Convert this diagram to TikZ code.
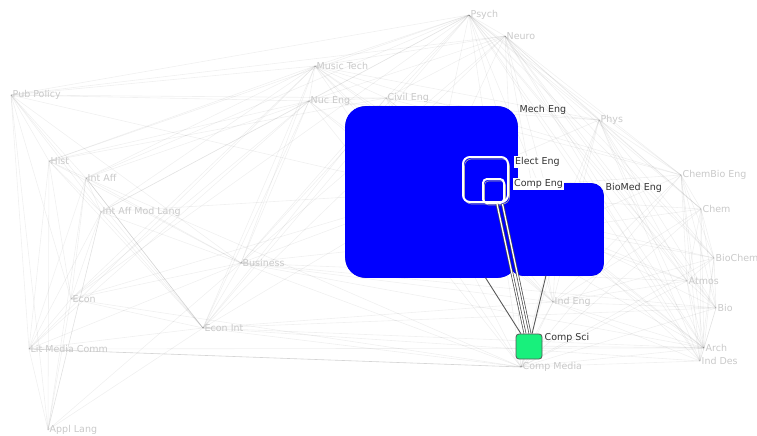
\documentclass[tikz,border=0pt]{standalone}
\usepackage{fontspec}
\setmainfont{DejaVu Sans}
\definecolor{nodeblue}{RGB}{0,0,255}
\definecolor{navyline}{RGB}{20,20,110}
\definecolor{csgreen}{RGB}{24,240,124}
\begin{document}
\begin{tikzpicture}[x=1pt,y=-1pt,
  faint/.style={draw=black, opacity=0.06, line width=0.6pt},
  lab/.style={anchor=west, inner sep=0.5pt, text=gray!42, font=\fontsize{9.5}{11}\selectfont},
  darklab/.style={anchor=west, inner sep=0.5pt, text=black!80, font=\fontsize{9.5}{11}\selectfont},
  boxlab/.style={darklab, fill=white, inner sep=1pt},
  bluebox/.style={draw=navyline, line width=1.6pt, fill=nodeblue, inner sep=0pt},
  whitebox/.style={draw=white, line width=2pt, inner sep=0pt},
  shadowbox/.style={draw=gray!70, line width=0.6pt, inner sep=0pt},
  strong/.style={draw=gray!70!black, line width=0.9pt},
  hilite/.style={draw=gray!60!black, line width=0.7pt, double=white, double distance=1.3pt}
]
\useasboundingbox (0,0) rectangle (757,436);

% node points
\foreach \n/\x/\y in {psych/469/15, neuro/505/36, music/315/66, pub/11/95, nuc/309/101,
  civil/386/98, phys/599/120, hist/49/161, intaff/86/178, intaffml/101/212,
  chembio/681/175, chem/701/209, business/241/263, biochem/714/258, econ/71/299,
  atmos/687/281, indeng/553/302, econint/203/328, bio/716/308, litmed/29/349,
  arch/704/348, inddes/700/361, compmedia/521/367, appl/48/430,
  mechc/431/192, biomedc/557/229, electc/485/179, compsc/529/346}
  \coordinate (\n) at (\x,\y);

% faint background edges
\foreach \a/\b in {
  psych/neuro, psych/music, psych/nuc, psych/civil, psych/phys, psych/chembio, psych/chem,
  psych/biochem, psych/atmos, psych/bio, psych/arch, psych/pub, psych/hist, psych/intaff,
  psych/business, psych/mechc, psych/biomedc, psych/econ, psych/indeng, psych/inddes,
  psych/compmedia, psych/intaffml, psych/econint,
  neuro/music, neuro/nuc, neuro/civil, neuro/phys, neuro/chembio, neuro/chem, neuro/biochem,
  neuro/atmos, neuro/bio, neuro/arch, neuro/inddes, neuro/mechc, neuro/biomedc, neuro/indeng,
  neuro/pub, neuro/business, neuro/compmedia, neuro/econint,
  music/pub, music/nuc, music/civil, music/hist, music/intaff, music/business, music/econint,
  music/econ, music/mechc, music/phys, music/chembio, music/litmed, music/compmedia, music/arch,
  music/intaffml, music/biomedc, music/indeng,
  pub/hist, pub/intaff, pub/econ, pub/litmed, pub/appl, pub/nuc, pub/civil, pub/business,
  pub/econint, pub/intaffml, pub/mechc,
  nuc/civil, nuc/business, nuc/econint, nuc/mechc, nuc/hist, nuc/intaff, nuc/econ, nuc/phys,
  nuc/indeng, nuc/compmedia, nuc/intaffml, nuc/litmed,
  civil/phys, civil/mechc, civil/business, civil/econint, civil/chembio, civil/indeng, civil/arch,
  civil/hist, civil/biomedc,
  hist/intaff, hist/intaffml, hist/econ, hist/litmed, hist/appl, hist/business, hist/econint,
  intaff/intaffml, intaff/econ, intaff/litmed, intaff/appl, intaff/econint, intaff/econint,
  intaff/econint, intaff/business, intaff/compmedia,
  intaffml/econ, intaffml/litmed, intaffml/appl, intaffml/business, intaffml/econint, intaffml/mechc,
  econ/litmed, econ/appl, econ/business, econ/econint, econ/compmedia, econ/mechc,
  litmed/appl, litmed/econint, litmed/business, litmed/compmedia, litmed/compmedia,
  litmed/compmedia, litmed/arch,
  appl/econint, appl/business, appl/intaffml,
  business/econint, business/mechc, business/compmedia, business/indeng, business/arch, business/atmos,
  business/biomedc, business/bio,
  econint/compmedia, econint/mechc, econint/indeng, econint/arch, econint/bio, econint/inddes,
  phys/chembio, phys/chem, phys/biochem, phys/atmos, phys/bio, phys/arch, phys/mechc, phys/biomedc,
  phys/indeng, phys/compmedia, phys/inddes,
  chembio/chem, chembio/biochem, chembio/atmos, chembio/bio, chembio/arch, chembio/inddes,
  chembio/indeng, chembio/biomedc, chembio/mechc, chembio/compmedia,
  chem/biochem, chem/atmos, chem/bio, chem/arch, chem/inddes, chem/indeng, chem/compmedia, chem/biomedc,
  chem/mechc,
  biochem/atmos, biochem/bio, biochem/arch, biochem/inddes, biochem/compmedia, biochem/indeng,
  biochem/biomedc, biochem/mechc,
  atmos/bio, atmos/arch, atmos/inddes, atmos/compmedia, atmos/indeng, atmos/biomedc, atmos/mechc,
  bio/arch, bio/inddes, bio/compmedia, bio/indeng, bio/biomedc,
  arch/inddes, arch/compmedia, arch/indeng, arch/compsc, arch/biomedc, arch/mechc,
  inddes/compmedia, inddes/biomedc, inddes/indeng,
  indeng/compmedia, indeng/compsc, indeng/biomedc, indeng/mechc,
  compmedia/compsc, compmedia/mechc, compmedia/biomedc}
  \draw[faint] (\a) -- (\b);

% big nodes: outline pass then fill pass
\node[bluebox, minimum width=171pt, minimum height=170pt, rounded corners=20pt] (mech) at (431.5,192) {};
\node[bluebox, minimum width=92pt, minimum height=91pt, rounded corners=12pt] (biomed) at (557,229.5) {};
\fill[nodeblue, rounded corners=20pt] (mech.south west) rectangle (mech.north east);
\fill[nodeblue, rounded corners=12pt] (biomed.south west) rectangle (biomed.north east);

% Elect Eng and Comp Eng
\node[shadowbox, minimum width=45pt, minimum height=45pt, rounded corners=7pt] (electsh) at (487,181.5) {};
\node[shadowbox, minimum width=21pt, minimum height=24pt, rounded corners=4pt] (compengsh) at (495,193) {};
\node[whitebox, minimum width=45pt, minimum height=45pt, rounded corners=7pt] (elect) at (485.5,179.5) {};
\node[whitebox, minimum width=21pt, minimum height=24pt, rounded corners=4pt] (compeng) at (493.5,191) {};

% Comp Sci
\node[draw=gray!70!black, line width=0.8pt, fill=csgreen, rounded corners=3pt,
  minimum width=26pt, minimum height=25pt, inner sep=0pt] (compsci) at (529,346.5) {};

% strong edges
\draw[strong] (mech) -- (compsci);
\draw[strong] (biomed) -- (compsci);
\draw[hilite] ([xshift=3.5pt]compeng.south) -- ([xshift=-4pt]compsci.north);
\draw[hilite] ([xshift=9pt]compeng.south) -- ([xshift=1pt]compsci.north);

% faint labels
\foreach \n/\t in {psych/Psych, neuro/Neuro, music/Music Tech, pub/Pub Policy, nuc/Nuc Eng,
  civil/Civil Eng, phys/Phys, hist/Hist, intaff/Int Aff, intaffml/Int Aff Mod Lang,
  chembio/ChemBio Eng, chem/Chem, business/Business, biochem/BioChem, econ/Econ,
  atmos/Atmos, indeng/Ind Eng, econint/Econ Int, bio/Bio, litmed/Lit Media Comm,
  arch/Arch, inddes/Ind Des, compmedia/Comp Media, appl/Appl Lang}
  \node[lab] (\n-l) at ([xshift=1pt]\n) {\t};

% dark labels
\node[darklab] (mech-l) at (519,110) {Mech Eng};
\node[boxlab] (elect-l) at (514,162) {Elect Eng};
\node[boxlab] (compeng-l) at (513,184) {Comp Eng};
\node[darklab] (biomed-l) at (605,188) {BioMed Eng};
\node[darklab] (compsci-l) at (544,338) {Comp Sci};
\end{tikzpicture}
\end{document}
